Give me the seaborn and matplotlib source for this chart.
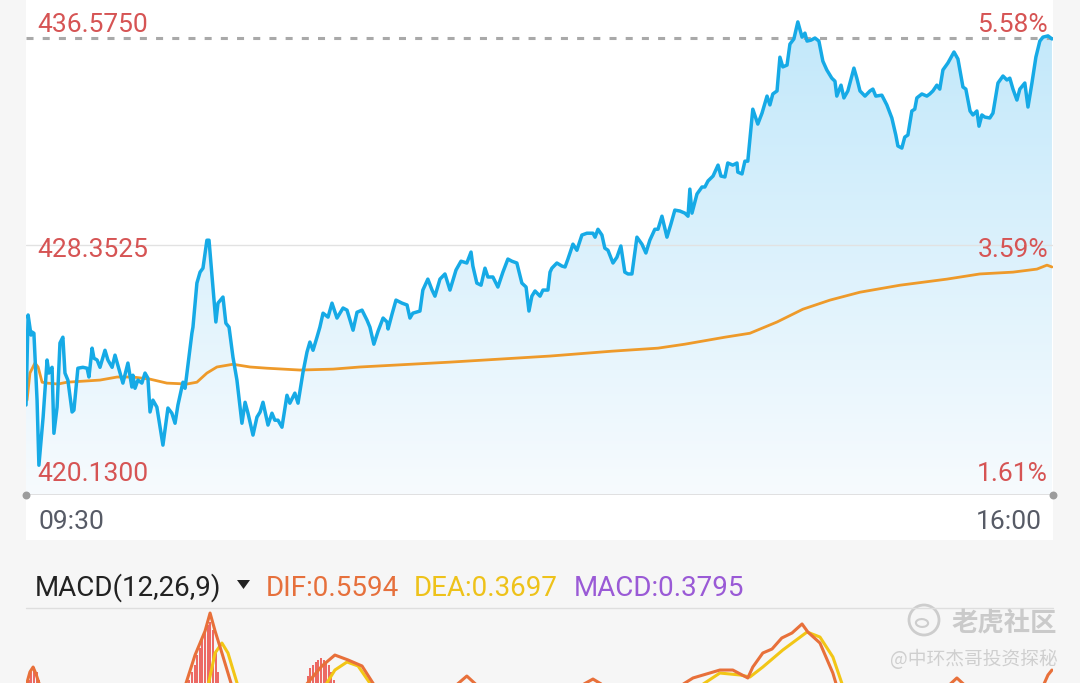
import numpy as np
import pandas as pd
import matplotlib
matplotlib.use("Agg")
import matplotlib.pyplot as plt
from matplotlib.colors import LinearSegmentedColormap
from matplotlib.patches import Rectangle, Ellipse, Polygon
from matplotlib.lines import Line2D
import seaborn as sns

# --- data (minutes after 09:30) ---

price_minutes = [
    0, 0.8, 1.9, 2.3, 3.0, 4.2, 4.9, 6.5, 8.0, 8.7,
    9.9, 10.6, 11.8, 12.9, 14.0, 14.8, 15.9, 17.5, 18.2, 19.7,
    21.6, 23.2, 23.9, 25.1, 25.8, 27.0, 28.1, 30.0, 31.1, 32.7,
    33.8, 35.7, 36.8, 38.7, 40.2, 40.6, 41.4, 42.5, 44.0, 45.2,
    46.3, 47.1, 48.2, 49.7, 52.0, 53.9, 55.4, 56.6, 57.7, 59.6,
    60.4, 63.0, 63.4, 64.9, 66.1, 67.2, 68.7, 69.5, 71.0, 72.1,
    72.9, 74.8, 75.9, 77.1, 78.6, 80.1, 82.0, 83.2, 84.3, 86.2,
    87.7, 88.9, 90.0, 91.9, 93.4, 94.5, 95.7, 97.2, 99.1, 100.2,
    102.1, 103.3, 105.2, 106.7, 107.8, 109.0, 110.5, 111.6, 112.8, 114.7,
    116.2, 118.1, 120.4, 121.9, 124.2, 125.7, 127.6, 129.5, 130.6, 132.1,
    133.7, 135.6, 137.1, 137.5, 139.0, 140.5, 142.8, 144.7, 145.8, 146.9,
    149.6, 150.7, 152.6, 154.2, 155.3, 157.2, 159.1, 161.0, 163.3, 165.2,
    167.4, 169.0, 169.7, 171.2, 172.8, 174.3, 175.4, 177.3, 179.2, 181.1,
    183.0, 184.5, 186.4, 188.3, 189.9, 191.0, 192.1, 193.3, 195.2, 196.3,
    198.2, 199.0, 199.7, 201.6, 203.5, 204.7, 205.8, 207.7, 209.2, 211.1,
    213.0, 215.3, 216.1, 217.2, 218.7, 219.8, 221.0, 222.9, 224.4, 225.9,
    227.4, 228.6, 230.1, 232.0, 233.9, 235.4, 236.9, 238.8, 240.0, 241.5,
    243.4, 244.9, 246.4, 248.3, 250.2, 251.4, 252.1, 252.9, 254.8, 256.7,
    257.8, 259.0, 260.9, 262.8, 263.9, 265.4, 266.5, 268.4, 270.0, 270.3,
    271.9, 273.0, 274.1, 276.0, 277.9, 279.5, 281.4, 282.5, 283.6, 285.2,
    286.3, 287.4, 289.0, 290.1, 291.6, 293.1, 294.7, 295.8, 296.6, 298.1,
    299.6, 301.1, 302.6, 304.1, 306.0, 307.2, 307.9, 309.5, 310.6, 312.1,
    314.4, 315.5, 316.7, 318.6, 320.5, 321.6, 322.7, 325.0, 326.9, 328.8,
    330.3, 331.1, 332.6, 333.7, 334.9, 336.4, 337.5, 338.3, 340.2, 342.1,
    343.2, 344.4, 345.9, 347.0, 348.2, 350.1, 352.4, 353.9, 355.8, 356.9,
    358.5, 359.6, 361.1, 361.9, 363.0, 364.1, 366.0, 367.2, 369.1, 371.0,
    372.5, 373.6, 374.8, 376.3, 377.4, 379.3, 380.5, 382.0, 383.5, 385.0,
    386.2, 388.1, 389.6,
]
price_values = [
    423.09, 426.05, 425.39, 425.49, 425.45, 423.25, 421.11, 422.69, 424.57, 424.14,
    424.33, 422.16, 423.02, 425.13, 425.32, 424.14, 423.91, 422.86, 422.92, 424.30,
    424.33, 424.30, 424.01, 424.96, 424.63, 424.57, 424.33, 424.89, 424.57, 424.33,
    424.73, 424.14, 423.81, 424.47, 423.68, 424.07, 423.64, 423.91, 423.81, 424.14,
    423.97, 422.86, 423.25, 423.02, 421.77, 422.99, 422.82, 422.49, 423.09, 423.84,
    423.64, 425.45, 425.65, 427.10, 427.46, 427.59, 428.51, 428.51, 426.97, 425.82,
    426.44, 426.64, 425.78, 425.65, 424.66, 423.91, 422.49, 423.18, 422.82, 422.10,
    422.69, 422.86, 423.18, 422.43, 422.82, 422.59, 422.59, 422.36, 423.41, 423.15,
    423.48, 423.15, 424.17, 424.83, 425.16, 424.89, 425.32, 425.65, 426.11, 425.98,
    426.44, 425.95, 426.28, 426.21, 425.55, 426.14, 426.21, 425.88, 425.65, 425.09,
    425.52, 425.95, 425.82, 425.59, 426.08, 426.54, 426.44, 426.38, 425.95, 426.11,
    426.18, 426.87, 427.23, 426.87, 426.67, 427.23, 427.40, 426.87, 427.53, 427.82,
    427.76, 428.12, 427.66, 427.10, 427.03, 427.59, 427.30, 427.30, 426.97, 427.46,
    427.89, 427.82, 427.76, 427.10, 426.97, 426.18, 426.67, 426.84, 426.67, 426.87,
    426.87, 427.46, 427.59, 427.76, 427.66, 427.63, 427.89, 428.38, 428.18, 428.68,
    428.74, 428.74, 428.61, 428.87, 428.68, 428.25, 428.18, 427.76, 427.95, 428.32,
    427.46, 427.40, 427.40, 428.61, 428.38, 428.09, 428.51, 428.87, 428.87, 429.30,
    428.61, 429.04, 429.50, 429.47, 429.40, 429.30, 430.19, 429.40, 430.03, 430.26,
    430.26, 430.46, 430.62, 430.98, 430.62, 430.59, 431.05, 430.98, 431.05, 430.75,
    430.69, 431.11, 431.11, 432.82, 432.33, 432.69, 433.25, 432.96, 433.32, 433.42,
    434.53, 434.21, 434.27, 434.96, 435.13, 435.69, 435.19, 435.32, 435.06, 435.09,
    435.16, 435.06, 434.40, 434.11, 433.84, 433.74, 433.25, 433.61, 433.19, 433.42,
    434.17, 433.84, 433.42, 433.25, 433.42, 433.48, 433.25, 433.28, 432.96, 432.53,
    431.97, 431.61, 431.54, 431.90, 431.97, 432.76, 432.82, 433.19, 433.32, 433.25,
    433.32, 433.42, 433.61, 433.48, 434.11, 434.34, 434.70, 434.47, 433.55, 433.48,
    432.76, 432.63, 432.76, 432.26, 432.63, 432.56, 432.53, 432.69, 433.68, 433.91,
    433.78, 433.84, 433.48, 433.12, 433.48, 433.68, 432.89, 433.68, 434.53, 435.06,
    435.19, 435.23, 435.13,
]

avg_minutes = [
    0.4, 1.5, 3.4, 4.6, 6.1, 8.0, 12.2, 15.6, 28.1, 34.6,
    40.6, 47.1, 53.5, 61.1, 64.9, 68.7, 72.5, 78.6, 85.1, 91.5,
    104.0, 116.6, 126.8, 161.0, 199.0, 222.5, 240.0, 250.2, 265.4, 274.9,
    285.2, 295.0, 305.3, 316.7, 331.9, 349.7, 362.2, 374.8, 383.9, 387.7,
    389.6,
]
avg_values = [
    423.25, 424.14, 424.47, 424.34, 423.84, 423.81, 423.78, 423.84, 423.91, 424.01,
    424.01, 423.94, 423.81, 423.78, 423.84, 424.14, 424.34, 424.43, 424.34, 424.30,
    424.24, 424.27, 424.34, 424.50, 424.70, 424.86, 424.96, 425.09, 425.32, 425.45,
    425.82, 426.24, 426.54, 426.80, 427.03, 427.23, 427.40, 427.46, 427.56, 427.69,
    427.63,
]

y_low, y_mid, y_high = 420.13, 428.3525, 436.575
last_price = 435.16

price_labels = ["436.5750", "428.3525", "420.1300"]
pct_labels = ["5.58%", "3.59%", "1.61%"]
time_labels = ["09:30", "16:00"]

# MACD panel (only the top of it is on screen)
bar_minutes = [1, 2, 3, 4, 5,
               62, 63, 64, 65, 66, 67, 68, 69, 70, 71, 72, 73,
               107, 108, 109, 110, 111, 112, 113, 114, 115, 116, 117]
bar_values = [0.528, 0.603, 0.649, 0.603, 0.528,
              0.528, 0.603, 0.668, 0.761, 0.827, 0.901, 0.976, 1.041, 1.069, 0.995, 0.808, 0.603,
              0.565, 0.640, 0.668, 0.696, 0.715, 0.733, 0.715, 0.696, 0.668, 0.603, 0.528]

dif_minutes = [0, 1.5, 2.7, 3.8, 5.3,
               60.4, 64.2, 68.0, 69.9, 71.8, 74.4, 78.2,
               105.9, 112.4, 117.3, 122.3, 127.6, 132.5,
               162.9, 167.4, 171.6,
               210.4, 215.3, 219.8,
               248.3, 253.3, 263.5, 268.4, 274.1, 276.0, 279.8, 283.3, 287.0, 290.9,
               294.7, 296.9, 301.5, 306.4, 307.9,
               350.1, 353.5, 356.9,
               386.2, 388.1, 389.6]
dif_values = [0.47, 0.603, 0.649, 0.584, 0.47,
              0.47, 0.761, 0.985, 1.153, 0.985, 0.780, 0.47,
              0.47, 0.659, 0.761, 0.715, 0.659, 0.47,
              0.47, 0.565, 0.47,
              0.47, 0.537, 0.47,
              0.47, 0.547, 0.621, 0.621, 0.547, 0.649, 0.780, 0.817, 0.920, 0.967,
              1.051, 0.976, 0.873, 0.593, 0.47,
              0.47, 0.547, 0.47,
              0.47, 0.575, 0.621]
dif_segment = [0, 0, 0, 0, 0,
               1, 1, 1, 1, 1, 1, 1,
               2, 2, 2, 2, 2, 2,
               3, 3, 3,
               4, 4, 4,
               5, 5, 5, 5, 5, 5, 5, 5, 5, 5,
               5, 5, 5, 5, 5,
               6, 6, 6,
               7, 7, 7]

dea_minutes = [69.1, 71.8, 74.4, 76.7, 80.5,
               113.5, 117.3, 121.9, 126.1, 131.4,
               255.9, 263.5, 271.1, 274.9, 279.8, 287.4, 296.6, 301.5, 306.4, 310.2]
dea_values = [0.47, 0.780, 0.873, 0.780, 0.47,
              0.47, 0.621, 0.696, 0.659, 0.47,
              0.47, 0.593, 0.575, 0.556, 0.649, 0.808, 0.976, 0.929, 0.743, 0.47]
dea_segment = [0, 0, 0, 0, 0,
               1, 1, 1, 1, 1,
               2, 2, 2, 2, 2, 2, 2, 2, 2, 2]

macd_texts = ["MACD(12,26,9)", "DIF:0.5594", "DEA:0.3697", "MACD:0.3795"]
watermark = ["老虎社区", "@中环杰哥投资探秘"]

# --- style ---

sns.set_style("white")
plt.rcParams["font.family"] = ["Roboto", "Noto Sans CJK SC", "DejaVu Sans"]

W, H = 1080, 683


def fx(px):
    return px / W


def fy(py):
    return 1 - py / H


fig = plt.figure(figsize=(W / 100, H / 100), dpi=100, facecolor="#f6f6f6")

# white panels behind the chart and the time strip
fig.add_artist(Rectangle((fx(26), fy(540)), (1053 - 26) / W, 540 / H + 0.01,
                         transform=fig.transFigure, facecolor="white", edgecolor="none", zorder=0))
fig.add_artist(Line2D([fx(26), fx(1053)], [fy(608), fy(608)], color="#dedede", lw=1,
                      transform=fig.transFigure))

# --- intraday price panel ---

ax = fig.add_axes([fx(26), fy(495), (1053 - 26) / W, 500 / H])
ax.set_facecolor("none")

poly = ax.fill_between(price_minutes, price_values, y_low, facecolor="none", edgecolor="none")
cmap = LinearSegmentedColormap.from_list("fill", ["#f7fbfe", "#bfe7fa"])
grad = np.linspace(1, 0, 256).reshape(-1, 1)
im = ax.imshow(grad, cmap=cmap, aspect="auto", extent=[0, 390, y_low, y_high],
               origin="upper", zorder=1)
im.set_clip_path(poly.get_paths()[0], transform=ax.transData)

ax.axhline(y_mid, color="#e2e2e2", lw=1, zorder=2)
ax.axhline(y_low, color="#dedede", lw=1.3, zorder=2)
ax.axhline(last_price, color="#a9a9a9", lw=2.2, dashes=(2.3, 3), zorder=3)
ax.scatter([0, 390], [y_low, y_low], s=22, color="#9c9c9c", clip_on=False, zorder=6)

sns.lineplot(x=avg_minutes, y=avg_values, color="#ee9a2a", lw=2.0, ax=ax, zorder=4)
sns.lineplot(x=price_minutes, y=price_values, color="#16aae6", lw=2.5, ax=ax, zorder=5)

ax.set_xlim(0, 390)
ax.set_ylim(y_low, y_high)
ax.axis("off")

red = "#d65454"
for label, pct, base in zip(price_labels, pct_labels, [32, 257, 481]):
    fig.text(fx(37), fy(base), label, color=red, fontsize=19, va="baseline", ha="left")
    fig.text(fx(1048), fy(base), pct, color=red, fontsize=19, va="baseline", ha="right")

fig.text(fx(38), fy(529), time_labels[0], color="#575b66", fontsize=19, va="baseline", ha="left")
fig.text(fx(1042), fy(529), time_labels[1], color="#575b66", fontsize=19, va="baseline", ha="right")

# --- MACD header ---

fig.text(fx(35), fy(596), macd_texts[0], color="#222222", fontsize=20, va="baseline")
fig.add_artist(Polygon([[fx(237), fy(580)], [fx(250), fy(580)], [fx(243.5), fy(589)]],
                       closed=True, transform=fig.transFigure, facecolor="#222222",
                       edgecolor="none"))
fig.text(fx(266), fy(596), macd_texts[1], color="#e6703c", fontsize=20, va="baseline")
fig.text(fx(414), fy(596), macd_texts[2], color="#eec21a", fontsize=20, va="baseline")
fig.text(fx(574), fy(596), macd_texts[3], color="#9a5ad6", fontsize=20, va="baseline")

# --- MACD panel ---

ax2 = fig.add_axes([fx(26), 0, (1053 - 26) / W, 75 / H])
ax2.set_facecolor("white")
ax2.vlines(bar_minutes, 0, bar_values, color="#ec5a55", lw=1.3, zorder=2)

dif_df = pd.DataFrame({"t": dif_minutes, "v": dif_values, "seg": dif_segment})
dea_df = pd.DataFrame({"t": dea_minutes, "v": dea_values, "seg": dea_segment})
sns.lineplot(data=dea_df, x="t", y="v", units="seg", estimator=None, color="#f2c616",
             lw=2.2, ax=ax2, legend=False, zorder=3)
sns.lineplot(data=dif_df, x="t", y="v", units="seg", estimator=None, color="#e8703a",
             lw=2.2, ax=ax2, legend=False, zorder=4)
ax2.set_xlim(0, 390)
ax2.set_ylim(0.5, 1.2)
ax2.axis("off")

# --- watermark ---

fig.add_artist(Ellipse((fx(924), fy(620)), 30 / W, 30 / H, transform=fig.transFigure,
                       facecolor="none", edgecolor="#cdcdcd", lw=2))
fig.add_artist(Ellipse((fx(922), fy(623)), 12 / W, 8 / H, angle=35, transform=fig.transFigure,
                       facecolor="none", edgecolor="#cdcdcd", lw=1.5))
fig.text(fx(952), fy(632), watermark[0], color="#cacaca", fontsize=19, fontweight="bold",
         family=["Noto Sans CJK SC", "DejaVu Sans"], va="baseline")
fig.text(fx(890), fy(665), watermark[1], color="#cfcfcf", fontsize=13.5,
         family=["Noto Sans CJK SC", "DejaVu Sans"], va="baseline")

fig.savefig("out.png", dpi=100, facecolor=fig.get_facecolor())
